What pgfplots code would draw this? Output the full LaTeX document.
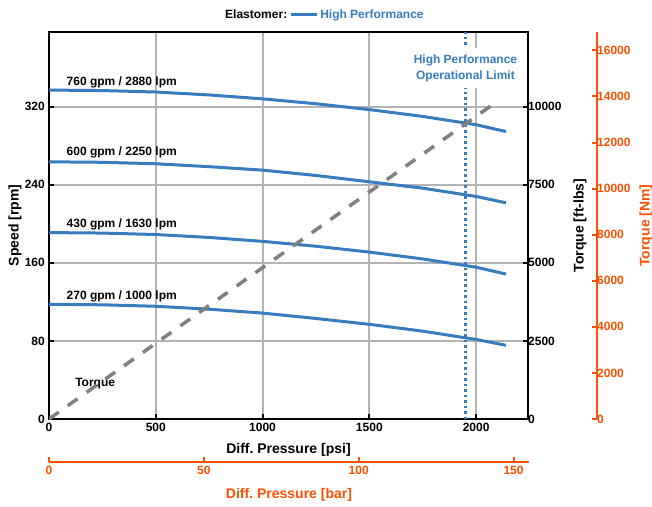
\documentclass[border=0pt]{standalone}
\usepackage{fontspec}
\setmainfont{Liberation Sans}
\usepackage{pgfplots}
\pgfplotsset{compat=1.18}
\definecolor{hpblue}{RGB}{54,125,192}
\definecolor{orng}{RGB}{255,80,0}
\definecolor{gridc}{RGB}{180,180,180}
\definecolor{tq}{RGB}{128,128,128}
\pgfplotsset{
  every axis/.append style={
    scale only axis,
    /pgf/number format/assume math mode=true,
    /pgf/number format/1000 sep={},
    scaled ticks=false,
    tick label style={font=\bfseries\fontsize{12}{14}\selectfont},
    label style={font=\bfseries\fontsize{14}{16}\selectfont},
    major tick length=5pt,
    tick align=inside,
  },
}
\begin{document}
\bfseries\fontsize{12}{14}\selectfont
\begin{tikzpicture}
% ---------- main axis (speed) ----------
\begin{axis}[at={(49pt,87pt)}, anchor=origin, width=479pt, height=387pt,
  xmin=0, xmax=2243, ymin=0, ymax=396.5,
  xtick={0,500,1000,1500,2000}, ytick={0,80,160,240,320},
  xtick pos=bottom, ytick pos=left,
  tick style={black, line width=2pt},
  grid=major, major grid style={gridc, line width=2pt},
  axis line style={black, line width=2pt},
  xlabel={Diff.\ Pressure [psi]}, ylabel={Speed [rpm]},
  xlabel style={at={(axis description cs:0.5,-0.080)}, anchor=center},
  ylabel style={at={(axis description cs:-0.071,0.5)}, anchor=center},
  legend style={at={(axis description cs:0.575,1.044)}, anchor=center, draw=none, fill=none,
    font=\bfseries\fontsize{12}{14}\selectfont, inner sep=0pt},
  legend columns=-1,
  legend image code/.code={\draw[#1] (0pt,0pt) -- (26pt,0pt);},
]
\addlegendimage{empty legend}
\addlegendentry{Elastomer:}
\addlegendimage{hpblue, line width=3pt}
\addlegendentry{\textcolor{hpblue}{High Performance}}
% 760 gpm
\addplot[hpblue, line width=3pt, forget plot] coordinates {
 (0,337) (250,336.5) (500,335) (750,332) (1000,328) (1250,323) (1500,317) (1750,310) (2000,301.5) (2140,294.5)};
% 600 gpm
\addplot[hpblue, line width=3pt, forget plot] coordinates {
 (0,263.5) (250,263) (500,261.5) (750,258.5) (1000,255) (1250,249.5) (1500,243) (1750,236.5) (2000,228) (2140,221.5)};
% 430 gpm
\addplot[hpblue, line width=3pt, forget plot] coordinates {
 (0,191) (250,190.5) (500,189) (750,186) (1000,182) (1250,177) (1500,171) (1750,164) (2000,155.5) (2140,148.5)};
% 270 gpm
\addplot[hpblue, line width=3pt, forget plot] coordinates {
 (0,117.5) (250,117) (500,115.5) (750,112.5) (1000,108.5) (1250,103) (1500,97) (1750,90) (2000,81.5) (2140,75.5)};
% operational limit
\addplot[hpblue, line width=2.5pt, dash pattern=on 2.5pt off 3pt, forget plot] coordinates {(1950,0) (1950,396.5)};
\node[anchor=base west, inner sep=0pt] at (axis cs:82,342) {760 gpm / 2880 lpm};
\node[anchor=base west, inner sep=0pt] at (axis cs:82,269.5) {600 gpm / 2250 lpm};
\node[anchor=base west, inner sep=0pt] at (axis cs:82,196) {430 gpm / 1630 lpm};
\node[anchor=base west, inner sep=0pt] at (axis cs:82,122.6) {270 gpm / 1000 lpm};
\node[anchor=base west, inner sep=0pt] at (axis cs:122,33.8) {Torque};
\node[fill=white, text=hpblue, align=center, inner xsep=2pt, inner ysep=6pt,
  font=\bfseries\fontsize{12}{16}\selectfont] at (axis cs:1950,359.6) {High Performance\\Operational Limit};
\end{axis}
% ---------- torque ft-lbs axis ----------
\begin{axis}[at={(49pt,87pt)}, anchor=origin, width=479pt, height=387pt,
  xmin=0, xmax=2243, ymin=0, ymax=12390.6,
  axis x line=none, axis y line*=right,
  ytick={0,2500,5000,7500,10000},
  tick style={black, line width=2pt},
  axis line style={black, line width=2pt},
  yticklabel style={inner xsep=0pt},
  ylabel={Torque [ft-lbs]},
  ylabel style={at={(axis description cs:1.1086,0.5)}, anchor=center},
]
\addplot[tq, line width=3.5pt, dash pattern=on 12pt off 11pt] coordinates {(0,0) (2105,10200)};
\end{axis}
% ---------- torque Nm axis ----------
\begin{axis}[at={(49pt,87pt)}, anchor=origin, width=548pt, height=387pt,
  xmin=0, xmax=1, ymin=0, ymax=16799.5,
  axis x line=none, axis y line*=right,
  ytick={0,2000,4000,6000,8000,10000,12000,14000,16000},
  tick style={orng, line width=2pt},
  axis line style={orng, line width=2pt},
  yticklabel style={orng, inner xsep=0pt},
  ylabel={Torque [Nm]},
  ylabel style={orng, at={(axis description cs:1.0894,0.5)}, anchor=center},
]
\addplot[draw=none] coordinates {(0,0)};
\end{axis}
% ---------- pressure bar axis ----------
\begin{axis}[at={(49pt,44pt)}, anchor=origin, width=480pt, height=100pt,
  xmin=0, xmax=155.0, ymin=0, ymax=1,
  axis y line=none, axis x line*=bottom,
  xtick={0,50,100,150},
  tick style={orng, line width=2pt},
  axis line style={orng, line width=2pt},
  xticklabel style={orng},
  xlabel={Diff.\ Pressure [bar]},
  xlabel style={orng, at={(axis description cs:0.5,-0.33)}, anchor=center},
]
\addplot[draw=none] coordinates {(0,0)};
\end{axis}
\pgfresetboundingbox
\useasboundingbox (0pt,0pt) rectangle (652pt,506pt);
\end{tikzpicture}
\end{document}
